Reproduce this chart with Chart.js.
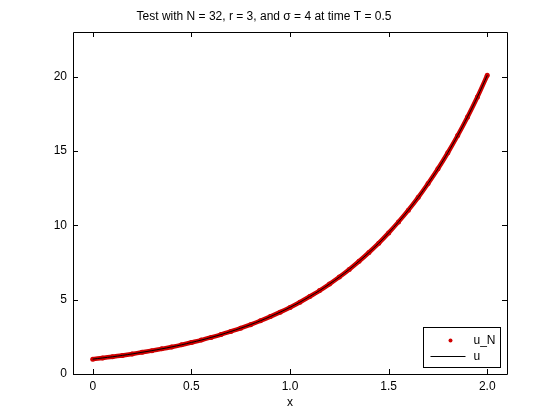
<!DOCTYPE html>
<html>
<head>
<meta charset="utf-8">
<script src="https://cdn.jsdelivr.net/npm/chart.js@4/dist/chart.umd.min.js"></script>
<style>
  html, body { margin: 0; padding: 0; background: #fff; }
  #wrap { width: 560px; height: 420px; }
</style>
</head>
<body>
<div id="wrap"><canvas id="solutionChart" width="560" height="420"></canvas></div>
<script>
// values
const xValues = [0, 0.05, 0.1, 0.15, 0.2, 0.25, 0.3, 0.35, 0.4, 0.45, 0.5, 0.55, 0.6, 0.65, 0.7, 0.75, 0.8, 0.85, 0.9, 0.95,
  1, 1.05, 1.1, 1.15, 1.2, 1.25, 1.3, 1.35, 1.4, 1.45, 1.5, 1.55, 1.6, 1.65, 1.7, 1.75, 1.8, 1.85, 1.9, 1.95, 2];
const uNValues = [1.00, 1.08, 1.16, 1.25, 1.35, 1.46, 1.57, 1.69, 1.82, 1.96, 2.12, 2.28, 2.46, 2.65, 2.86, 3.08, 3.32, 3.58, 3.86, 4.16,
  4.48, 4.83, 5.21, 5.61, 6.05, 6.52, 7.03, 7.58, 8.17, 8.80, 9.49, 10.23, 11.02, 11.88, 12.81, 13.80, 14.88, 16.04, 17.29, 18.63, 20.09];
const uValues = [1.00, 1.08, 1.16, 1.25, 1.35, 1.46, 1.57, 1.69, 1.82, 1.96, 2.12, 2.28, 2.46, 2.65, 2.86, 3.08, 3.32, 3.58, 3.86, 4.16,
  4.48, 4.83, 5.21, 5.61, 6.05, 6.52, 7.03, 7.58, 8.17, 8.80, 9.49, 10.23, 11.02, 11.88, 12.81, 13.80, 14.88, 16.04, 17.29, 18.63, 20.09];
const xTicks = [0, 0.5, 1, 1.5, 2];
const yTicks = [0, 5, 10, 15, 20];
const titleText = 'Test with N = 32, r = 3, and \u03c3 = 4 at time T = 0.5';

const FONT = 'Liberation Sans, Arial, Helvetica, sans-serif';
const RED = '#d00000';

const toPoints = (xs, ys) => xs.map((x, i) => ({ x: x, y: ys[i] }));

// frame, inward ticks on all four sides, title and legend box (MATLAB look)
const matlabAxes = {
    id: 'matlabAxes',
    afterDraw(chart) {
        const ctx = chart.ctx;
        const { left, right, top, bottom } = chart.chartArea;
        const xs = chart.scales.x, ys = chart.scales.y;
        const tl = 5;

        ctx.save();
        ctx.strokeStyle = '#000';
        ctx.lineWidth = 1;
        ctx.beginPath();
        ctx.rect(Math.round(left) + 0.5, Math.round(top) + 0.5, Math.round(right - left), Math.round(bottom - top));
        xTicks.forEach(v => {
            const px = Math.round(xs.getPixelForValue(v)) + 0.5;
            ctx.moveTo(px, bottom); ctx.lineTo(px, bottom - tl);
            ctx.moveTo(px, top); ctx.lineTo(px, top + tl);
        });
        yTicks.forEach(v => {
            const py = Math.round(ys.getPixelForValue(v)) + 0.5;
            ctx.moveTo(left, py); ctx.lineTo(left + tl, py);
            ctx.moveTo(right, py); ctx.lineTo(right - tl, py);
        });
        ctx.stroke();

        // title
        ctx.fillStyle = '#000';
        ctx.font = '12px ' + FONT;
        ctx.textAlign = 'center';
        ctx.textBaseline = 'middle';
        ctx.fillText(titleText, (left + right) / 2 - 26, 17);

        // legend
        const bw = 77, bh = 40;
        const bx = Math.round(right - 7 - bw) + 0.5;
        const by = Math.round(bottom - 7 - bh) + 0.5;
        ctx.fillStyle = '#fff';
        ctx.fillRect(bx, by, bw, bh);
        ctx.strokeRect(bx, by, bw, bh);

        const ds = chart.data.datasets;
        const row1 = by + 13, row2 = by + 29;
        ctx.fillStyle = ds[0].pointBackgroundColor;
        ctx.beginPath();
        ctx.arc(bx + 27, row1, 2, 0, Math.PI * 2);
        ctx.fill();
        ctx.strokeStyle = ds[1].borderColor;
        ctx.beginPath();
        ctx.moveTo(bx + 7, row2); ctx.lineTo(bx + 42, row2);
        ctx.stroke();
        ctx.fillStyle = '#000';
        ctx.textAlign = 'left';
        ctx.fillText(ds[0].label, bx + 50, row1);
        ctx.fillText(ds[1].label, bx + 50, row2);
        ctx.restore();
    }
};

const ctx = document.getElementById('solutionChart').getContext('2d');
new Chart(ctx, {
    type: 'scatter',
    data: {
        datasets: [{
            label: 'u_N',
            data: toPoints(xValues, uNValues),
            showLine: true,
            borderColor: RED,
            borderWidth: 4.5,
            pointRadius: 2.5,
            pointBackgroundColor: RED,
            pointBorderWidth: 0,
            tension: 0.3,
            order: 1
        }, {
            label: 'u',
            data: toPoints(xValues, uValues),
            showLine: true,
            borderColor: '#000',
            borderWidth: 1,
            pointRadius: 0,
            tension: 0.3,
            order: 0
        }]
    },
    options: {
        responsive: false,
        animation: false,
        layout: { padding: { top: 32, right: 53, left: 0, bottom: 0 } },
        plugins: {
            legend: { display: false },
            title: { display: false },
            tooltip: { enabled: false }
        },
        scales: {
            x: {
                type: 'linear',
                min: -0.1,
                max: 2.1,
                afterBuildTicks: s => { s.ticks = xTicks.map(v => ({ value: v })); },
                afterFit: s => { s.height = 46; },
                grid: { display: false, drawTicks: false },
                border: { display: false },
                ticks: { padding: 5, color: '#000', font: { family: FONT, size: 12 }, maxRotation: 0 },
                title: { display: true, text: 'x', color: '#000', font: { family: FONT, size: 12 }, padding: { top: 4, bottom: 10 } }
            },
            y: {
                type: 'linear',
                min: 0,
                max: 23,
                afterBuildTicks: s => { s.ticks = yTicks.map(v => ({ value: v })); },
                afterFit: s => { s.width = 73; },
                grid: { display: false, drawTicks: false },
                border: { display: false },
                ticks: { padding: 6, color: '#000', font: { family: FONT, size: 12 } }
            }
        }
    },
    plugins: [matlabAxes]
});
</script>
</body>
</html>
